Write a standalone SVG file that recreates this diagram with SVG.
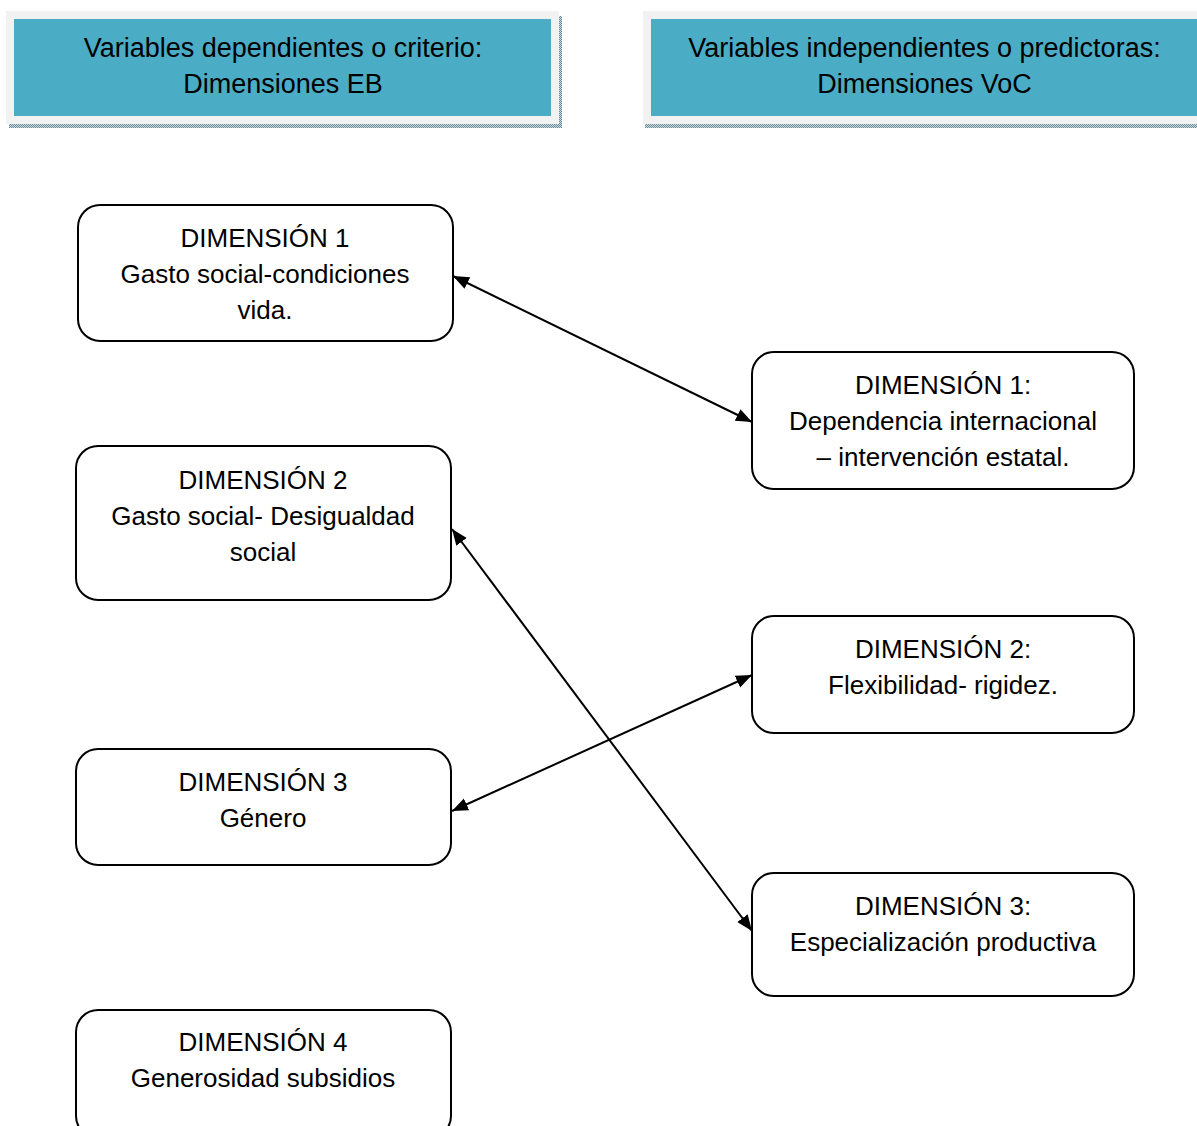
<svg xmlns="http://www.w3.org/2000/svg" width="1197" height="1126" viewBox="0 0 1197 1126">
<defs>
<style>
.hdr-frame{fill:#F2F2F2;}
.hdr-fill{fill:#4BACC6;}
.hdr-shadow{fill:url(#dots);}
.hdr-text{font-family:"Liberation Sans",Arial,sans-serif;font-size:27px;fill:#000;text-anchor:middle;}
.box{fill:#fff;stroke:#000;stroke-width:2;}
.lbl{font-family:"Liberation Sans",Arial,sans-serif;font-size:26px;fill:#000;text-anchor:middle;}
.conn{stroke:#000;stroke-width:2;fill:none;marker-start:url(#arr);marker-end:url(#arr);}
</style>
<pattern id="dots" width="2" height="2" patternUnits="userSpaceOnUse">
<rect width="2" height="2" fill="#C9D6DC"/>
<rect width="1" height="1" fill="#6E8E9C"/>
<rect x="1" y="1" width="1" height="1" fill="#6E8E9C"/>
</pattern>
<marker id="arr" markerUnits="userSpaceOnUse" markerWidth="18" markerHeight="14" refX="16" refY="6.5" orient="auto-start-reverse">
<path d="M0,0 L16,6.5 L0,13 z" fill="#000"/>
</marker>
</defs>

<g id="header-dependientes">
<rect class="hdr-shadow" x="9" y="16" width="553" height="112"/>
<rect class="hdr-frame" x="6" y="11" width="553" height="113"/>
<rect class="hdr-fill" x="14" y="19" width="537" height="97"/>
<text class="hdr-text" x="283" y="57">Variables dependientes o criterio:</text>
<text class="hdr-text" x="283" y="93">Dimensiones EB</text>
</g>

<g id="header-independientes">
<rect class="hdr-shadow" x="645" y="16" width="560" height="112"/>
<rect class="hdr-frame" x="643" y="11" width="562" height="113"/>
<rect class="hdr-fill" x="651" y="19" width="547" height="97"/>
<text class="hdr-text" x="924.5" y="57">Variables independientes o predictoras:</text>
<text class="hdr-text" x="924.5" y="93">Dimensiones VoC</text>
</g>

<g id="eb-dim1">
<rect class="box" x="78" y="205" width="375" height="136" rx="22" ry="22"/>
<text class="lbl" x="265" y="247">DIMENSIÓN 1</text>
<text class="lbl" x="265" y="283">Gasto social-condiciones</text>
<text class="lbl" x="265" y="319">vida.</text>
</g>

<g id="eb-dim2">
<rect class="box" x="76" y="446" width="375" height="154" rx="22" ry="22"/>
<text class="lbl" x="263" y="489">DIMENSIÓN 2</text>
<text class="lbl" x="263" y="525">Gasto social- Desigualdad</text>
<text class="lbl" x="263" y="561">social</text>
</g>

<g id="eb-dim3">
<rect class="box" x="76" y="749" width="375" height="116" rx="22" ry="22"/>
<text class="lbl" x="263" y="791">DIMENSIÓN 3</text>
<text class="lbl" x="263" y="827">Género</text>
</g>

<g id="eb-dim4">
<rect class="box" x="76" y="1010" width="375" height="128" rx="22" ry="22"/>
<text class="lbl" x="263" y="1051">DIMENSIÓN 4</text>
<text class="lbl" x="263" y="1087">Generosidad subsidios</text>
</g>

<g id="voc-dim1">
<rect class="box" x="752" y="352" width="382" height="137" rx="22" ry="22"/>
<text class="lbl" x="943" y="394">DIMENSIÓN 1:</text>
<text class="lbl" x="943" y="430">Dependencia internacional</text>
<text class="lbl" x="943" y="466">– intervención estatal.</text>
</g>

<g id="voc-dim2">
<rect class="box" x="752" y="616" width="382" height="117" rx="22" ry="22"/>
<text class="lbl" x="943" y="658">DIMENSIÓN 2:</text>
<text class="lbl" x="943" y="694">Flexibilidad- rigidez.</text>
</g>

<g id="voc-dim3">
<rect class="box" x="752" y="873" width="382" height="123" rx="22" ry="22"/>
<text class="lbl" x="943" y="915">DIMENSIÓN 3:</text>
<text class="lbl" x="943" y="951">Especialización productiva</text>
</g>

<g id="connectors">
<line class="conn" x1="453" y1="276" x2="752" y2="422"/>
<line class="conn" x1="452" y1="529" x2="752" y2="931"/>
<line class="conn" x1="452" y1="811" x2="752" y2="675"/>
</g>
</svg>
